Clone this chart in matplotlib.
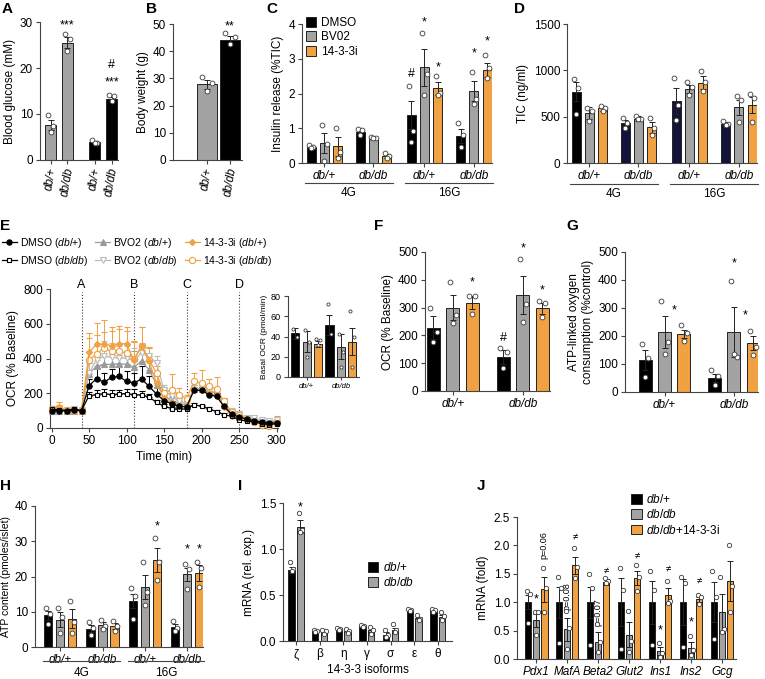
import numpy as np
import matplotlib
matplotlib.use("Agg")
import matplotlib.pyplot as plt
import matplotlib.transforms as mtransforms
from matplotlib.patches import Patch

plt.rcParams["font.family"] = ["Liberation Sans", "DejaVu Sans"]
plt.rcParams["mathtext.fontset"] = "custom"
plt.rcParams["mathtext.it"] = "Liberation Sans:italic"
plt.rcParams["mathtext.rm"] = "Liberation Sans"

# ---------------- data ----------------
# A - blood glucose
a_labels = ["db/+", "db/db", "db/+", "db/db"]
a_mean = [7.7, 25.5, 3.9, 13.3]
a_sem = [1.1, 1.2, 0.25, 0.4]
a_pts = [[9.8, 7.4, 6.1], [27.5, 26.4, 23.6], [4.4, 3.8, 3.6], [14.1, 13.9, 12.9]]
a_marks = [(1, 29.3, "***"), (3, 20.6, "#"), (3, 16.8, "***")]

# B - body weight
b_labels = ["db/+", "db/db"]
b_mean = [27.8, 44.3]
b_sem = [1.6, 1.3]
b_pts = [[30.6, 28.3, 25.5], [46.6, 45.2, 42.6]]
b_marks = [(1, 49.0, "**")]

# C - insulin release, groups: 4G db/+, 4G db/db, 16G db/+, 16G db/db
treatments = ["DMSO", "BV02", "14-3-3i"]
geno_labels = ["db/+", "db/db", "db/+", "db/db"]
glucose_labels = ["4G", "16G"]
c_mean = [[0.47, 0.58, 0.48], [0.90, 0.73, 0.20], [1.37, 2.75, 2.15], [0.78, 2.07, 2.68]]
c_sem = [[0.03, 0.28, 0.27], [0.06, 0.02, 0.05], [0.40, 0.53, 0.18], [0.20, 0.28, 0.20]]
c_pts = [
    [[0.52, 0.45, 0.44], [1.10, 0.55, 0.06], [1.02, 0.32, 0.14]],
    [[0.98, 0.95, 0.81], [0.76, 0.73, 0.71], [0.30, 0.19, 0.15]],
    [[2.21, 0.92, 0.60], [3.75, 2.55, 1.95], [2.50, 2.02, 1.95]],
    [[1.14, 0.80, 0.45], [2.63, 1.85, 1.70], [3.10, 2.72, 2.45]],
]
c_marks = [(2, 0, 2.55, "#"), (2, 1, 4.05, "*"), (2, 2, 2.75, "*"), (3, 1, 3.15, "*"), (3, 2, 3.5, "*")]

# D - total insulin content
d_mean = [[770, 540, 590], [430, 480, 385], [665, 800, 865], [420, 600, 625]]
d_sem = [[100, 60, 30], [30, 30, 60], [140, 40, 70], [20, 80, 90]]
d_pts = [
    [[905, 810, 530], [590, 560, 450], [610, 590, 560]],
    [[490, 430, 380], [510, 480, 470], [490, 380, 300]],
    [[920, 630, 460], [870, 820, 730], [990, 870, 780]],
    [[450, 420, 410], [720, 680, 440], [740, 700, 440]],
]

# E - OCR time course
e_time = [0, 10, 20, 30, 40, 50, 60, 70, 80, 90, 100, 110, 120, 130, 140, 150,
          160, 170, 180, 190, 200, 210, 220, 230, 240, 250, 260, 270, 280, 290, 300]
e_dmso_wt = [100, 100, 98, 102, 100, 243, 284, 263, 291, 297, 268, 259, 282, 240, 196, 157,
             140, 125, 121, 217, 217, 192, 182, 125, 80, 63, 52, 42, 33, 29, 29]
e_dmso_db = [109, 105, 100, 110, 100, 186, 192, 198, 192, 196, 198, 192, 190, 178, 148, 125,
             112, 108, 110, 134, 125, 110, 94, 77, 67, 48, 40, 35, 25, 20, 25]
e_bvo_wt = [100, 100, 100, 100, 100, 313, 355, 366, 366, 370, 366, 351, 384, 336, 249, 192,
            153, 140, 134, 224, 224, 211, 201, 134, 85, 65, 55, 45, 40, 35, 40]
e_bvo_db = [110, 110, 105, 110, 105, 316, 393, 412, 408, 403, 403, 389, 432, 412, 374, 220,
            182, 153, 144, 220, 230, 215, 205, 150, 95, 80, 60, 55, 45, 40, 45]
e_i_wt = [100, 120, 100, 100, 100, 435, 483, 483, 474, 485, 485, 389, 474, 384, 259, 171,
          144, 125, 125, 220, 220, 200, 190, 120, 70, 55, 45, 35, 30, 25, 30]
e_i_db = [110, 115, 105, 105, 100, 389, 428, 460, 441, 441, 431, 397, 470, 393, 316, 201,
          220, 192, 169, 268, 259, 240, 224, 153, 90, 75, 50, 35, 20, 10, 30]
e_dmso_wt_err = [10, 10, 8, 8, 8, 40, 60, 55, 50, 60, 60, 60, 75, 60, 40, 20,
                 15, 10, 10, 20, 20, 20, 20, 20, 12, 10, 8, 8, 6, 6, 6]
e_dmso_db_err = [8, 8, 6, 6, 6, 20, 25, 25, 25, 25, 25, 30, 25, 20, 15, 12,
                 10, 8, 8, 10, 10, 8, 8, 8, 6, 6, 6, 5, 5, 5, 5]
e_bvo_wt_err = [10, 10, 8, 8, 8, 60, 80, 90, 80, 80, 80, 90, 100, 80, 50, 30,
                25, 20, 20, 25, 25, 25, 25, 25, 15, 10, 10, 8, 8, 8, 8]
e_bvo_db_err = [15, 12, 10, 10, 10, 70, 80, 90, 80, 70, 70, 70, 60, 50, 40, 30,
                25, 20, 20, 25, 25, 25, 25, 25, 15, 10, 10, 8, 8, 8, 8]
e_i_wt_err = [10, 30, 10, 10, 10, 110, 120, 140, 110, 100, 95, 110, 105, 80, 60, 40,
              30, 25, 20, 40, 40, 30, 30, 20, 15, 10, 10, 8, 8, 8, 8]
e_i_db_err = [15, 20, 10, 10, 10, 130, 110, 90, 120, 130, 130, 100, 110, 70, 40, 30,
              90, 40, 20, 50, 75, 40, 70, 20, 15, 12, 10, 10, 8, 10, 40]
e_injections = [40, 110, 180, 250]
e_inj_labels = ["A", "B", "C", "D"]
e_basal_mean = [43, 35, 33, 51, 30, 35]
e_basal_sem = [5, 10, 3, 10, 12, 13]
e_basal_pts = [[47, 40], [46, 35, 20], [38, 37, 32], [72, 42], [42, 25, 10], [65, 40, 10]]

# F - OCR % baseline
f_mean = [[228, 300, 318], [123, 345, 298]]
f_sem = [[40, 45, 22], [25, 68, 20]]
f_pts = [[[300, 213, 177], [392, 274, 243], [343, 343, 277]],
         [[155, 141, 83], [475, 313, 249], [325, 316, 265]]]
f_marks = [(0, 2, 392, "*"), (1, 0, 192, "#"), (1, 1, 512, "*"), (1, 2, 362, "*")]

# G - ATP-linked oxygen consumption
g_mean = [[114, 214, 207], [50, 215, 176]]
g_sem = [[35, 57, 15], [15, 90, 25]]
g_pts = [[[170, 120, 54], [326, 179, 137], [239, 212, 183]],
         [[78, 57, 26], [397, 126, 135], [219, 161, 132]]]
g_marks = [(0, 1.52, 290, "*"), (1, 1.0, 458, "*"), (1, 1.6, 272, "*")]

# H - ATP content
h_mean = [[9.0, 7.8, 8.0], [5.2, 6.2, 6.0], [13.1, 17.0, 24.6], [5.8, 20.6, 21.0]]
h_sem = [[1.3, 2.0, 2.7], [0.9, 0.8, 0.8], [2.0, 3.5, 3.4], [0.8, 1.8, 2.2]]
h_pts = [
    [[11.2, 9.5, 6.5], [11.2, 8.5, 4.0], [13.0, 7.0, 4.0]],
    [[7.0, 5.5, 3.5], [7.8, 6.0, 5.2], [7.5, 6.0, 4.5]],
    [[16.8, 14.5, 8.0], [24.0, 15.5, 12.0], [31.0, 24.2, 19.0]],
    [[7.5, 5.5, 4.5], [23.5, 22.0, 16.5], [24.2, 22.5, 17.0]],
]
h_marks = [(2, 2, 34.3, "*"), (3, 1, 27.6, "*"), (3, 2, 27.6, "*")]

# I - 14-3-3 isoforms
i_iso = ["ζ", "β", "η", "γ", "σ", "ε", "θ"]
i_wt_mean = [0.77, 0.11, 0.13, 0.16, 0.07, 0.34, 0.34]
i_wt_sem = [0.03, 0.01, 0.01, 0.01, 0.025, 0.01, 0.01]
i_db_mean = [1.24, 0.10, 0.11, 0.12, 0.12, 0.25, 0.26]
i_db_sem = [0.07, 0.01, 0.01, 0.02, 0.025, 0.015, 0.025]
i_wt_pts = [[0.86, 0.78, 0.76], [0.12, 0.11, 0.10], [0.14, 0.13, 0.12], [0.17, 0.16, 0.15],
            [0.12, 0.07, 0.04], [0.35, 0.34, 0.33], [0.35, 0.34, 0.32]]
i_db_pts = [[1.39, 1.21, 1.18], [0.12, 0.11, 0.08], [0.13, 0.11, 0.09], [0.15, 0.12, 0.08],
            [0.18, 0.12, 0.10], [0.28, 0.24, 0.23], [0.31, 0.27, 0.23]]

# J - beta cell genes
j_genes = ["Pdx1", "MafA", "Beta2", "Glut2", "Ins1", "Ins2", "Gcg"]
j_wt_mean = [1.0, 1.0, 1.0, 1.0, 1.0, 1.0, 1.0]
j_wt_sem = [0.12, 0.27, 0.27, 0.42, 0.38, 0.40, 0.35]
j_db_mean = [0.68, 0.52, 0.30, 0.43, 0.14, 0.20, 0.82]
j_db_sem = [0.12, 0.20, 0.18, 0.22, 0.07, 0.10, 0.32]
j_i_mean = [1.23, 1.65, 1.35, 1.43, 1.12, 1.05, 1.37]
j_i_sem = [0.22, 0.15, 0.05, 0.12, 0.13, 0.05, 0.35]
j_wt_pts = [[1.20, 1.15, 0.63], [1.45, 1.25, 0.28], [1.50, 1.25, 0.25], [1.60, 1.22, 0.18],
            [1.55, 1.22, 0.25], [1.45, 1.33, 0.22], [1.55, 1.10, 0.35]]
j_db_pts = [[0.82, 0.82, 0.42], [0.85, 0.55, 0.18], [0.62, 0.30, 0.12], [0.85, 0.32, 0.13],
            [0.28, 0.10, 0.04], [0.40, 0.15, 0.07], [1.45, 0.52, 0.47]]
j_i_pts = [[1.60, 1.25, 0.83], [1.95, 1.62, 1.43], [1.42, 1.37, 1.33], [1.65, 1.45, 1.20],
           [1.37, 1.02, 0.98], [1.12, 1.10, 0.97], [2.00, 1.28, 0.83]]
j_stars = [(0, 1, 1.05), (4, 1, 0.50), (5, 1, 0.64)]
j_neq = [(1, 2, 2.15), (2, 2, 1.55), (3, 2, 1.82), (4, 2, 1.60), (5, 2, 1.38)]
j_pvals = [(0, 2, 2.0, "p=0.06"), (1, 1, 1.1, "p=0.08"), (2, 1, 0.82, "p=0.07")]

# ---------------- style ----------------
BLACK = "#000000"
GREY = "#a3a3a3"
ORANGE = "#f0a142"
NAVY = "#12123a"
EDGE = "#222222"
AX = "#444444"
W, H = 765, 679

fig = plt.figure(figsize=(W / 100, H / 100), dpi=100)


def px_ax(x0, y0, x1, y1):
    return fig.add_axes([x0 / W, 1 - y1 / H, (x1 - x0) / W, (y1 - y0) / H])


def clean(ax, fs=8):
    ax.spines[["top", "right"]].set_visible(False)
    for s in ["left", "bottom"]:
        ax.spines[s].set_linewidth(0.8)
        ax.spines[s].set_color(AX)
    ax.tick_params(labelsize=fs, length=3, width=0.8, color=AX, pad=2)


JIT = [-0.24, 0.24, 0.0]


def draw_bar(ax, x, m, e, pts, color, w, s=12):
    ax.bar(x, m, w, color=color, edgecolor=EDGE, linewidth=0.7, zorder=2)
    ax.errorbar(x, m, yerr=e, fmt="none", ecolor=EDGE, elinewidth=0.7,
                capsize=2.5, capthick=0.7, zorder=3)
    xs = [x + j * w for j in JIT[:len(pts)]]
    ax.scatter(xs, pts, s=s, facecolor="white", edgecolor="#3a3a3a",
               linewidths=0.6, zorder=4, clip_on=False)


def mark(ax, x, y, txt, fs=9):
    ax.text(x, y, txt, ha="center", va="center", fontsize=fs, zorder=5)


def letter(x, y, t):
    fig.text(x / W, 1 - y / H, t, fontsize=11, fontweight="bold", ha="left", va="top")


def glucose_bars(ax, centers, y_line, y_text):
    tr = mtransforms.blended_transform_factory(ax.transData, ax.transAxes)
    for k, lab in enumerate(glucose_labels):
        lo, hi = centers[2 * k] - 1.45, centers[2 * k + 1] + 1.45
        ax.plot([lo, hi], [y_line, y_line], color=AX, lw=0.8, transform=tr, clip_on=False)
        ax.text((lo + hi) / 2, y_text, lab, transform=tr, ha="center", va="center", fontsize=8.5)


def grouped(ax, centers, means, sems, pts, colors, w):
    for g, c in enumerate(centers):
        for b in range(3):
            draw_bar(ax, c + b - 1, means[g][b], sems[g][b], pts[g][b], colors[g][b], w)


# ---------------- A ----------------
axA = px_ax(40, 22, 118, 160)
a_x = [0, 1, 2.6, 3.6]
a_col = [GREY, GREY, BLACK, BLACK]
for i in range(4):
    draw_bar(axA, a_x[i], a_mean[i], a_sem[i], a_pts[i], a_col[i], 0.65)
for i, y, t in a_marks:
    mark(axA, a_x[i], y, t)
axA.set_xlim(-0.62, 3.98)
axA.set_ylim(0, 30)
axA.set_yticks([0, 10, 20, 30])
axA.set_xticks(a_x)
axA.set_xticklabels(a_labels, rotation=80, fontstyle="italic")
axA.set_ylabel("Blood glucose (mM)", fontsize=8.5, labelpad=3)
clean(axA, 8.5)

# ---------------- B ----------------
axB = px_ax(173, 24, 242, 160)
b_x = [0, 1]
b_col = [GREY, BLACK]
for i in range(2):
    draw_bar(axB, b_x[i], b_mean[i], b_sem[i], b_pts[i], b_col[i], 0.87)
for i, y, t in b_marks:
    mark(axB, b_x[i], y, t)
axB.set_xlim(-1.48, 1.52)
axB.set_ylim(0, 50)
axB.set_yticks([0, 10, 20, 30, 40, 50])
axB.set_xticks(b_x)
axB.set_xticklabels(b_labels, rotation=80, fontstyle="italic")
axB.set_ylabel("Body weight (g)", fontsize=8.5, labelpad=3)
clean(axB, 8.5)

# ---------------- C ----------------
cd_centers = [0, 3.67, 7.5, 11.2]
axC = px_ax(302, 24, 492, 163)
grouped(axC, cd_centers, c_mean, c_sem, c_pts, [[BLACK, GREY, ORANGE]] * 4, 0.68)
for g, b, y, t in c_marks:
    mark(axC, cd_centers[g] + b - 1, y, t)
axC.set_xlim(-1.68, 12.56)
axC.set_ylim(0, 4)
axC.set_yticks([0, 1, 2, 3, 4])
axC.set_xticks(cd_centers)
axC.set_xticklabels(geno_labels, fontstyle="italic")
axC.set_ylabel("Insulin release (%TIC)", fontsize=8.5, labelpad=3)
clean(axC, 8.5)
glucose_bars(axC, cd_centers, -0.145, -0.215)
axC.legend([Patch(facecolor=c, edgecolor=EDGE, lw=0.7) for c in [BLACK, GREY, ORANGE]], treatments,
           loc="upper left", bbox_to_anchor=(0.02, 1.05), frameon=False, fontsize=8.5,
           handlelength=0.9, handleheight=0.9, handletextpad=0.4, labelspacing=0.2,
           borderaxespad=0, borderpad=0)

# ---------------- D ----------------
axD = px_ax(567, 24, 757, 163)
d_colors = [[BLACK, GREY, ORANGE], [NAVY, GREY, ORANGE], [NAVY, GREY, ORANGE], [NAVY, GREY, ORANGE]]
grouped(axD, cd_centers, d_mean, d_sem, d_pts, d_colors, 0.68)
axD.set_xlim(-1.68, 12.56)
axD.set_ylim(0, 1500)
axD.set_yticks([0, 500, 1000, 1500])
axD.set_xticks(cd_centers)
axD.set_xticklabels(geno_labels, fontstyle="italic")
axD.set_ylabel("TIC (ng/ml)", fontsize=8.5, labelpad=3)
clean(axD, 8.5)
glucose_bars(axD, cd_centers, -0.15, -0.22)

# ---------------- E ----------------
axE = px_ax(50, 289, 278, 428)
e_series = [
    (e_bvo_wt, e_bvo_wt_err, "^", "#9a9a9a", "#9a9a9a", 4, r"BVO2 ($\it{db}$/+)"),
    (e_bvo_db, e_bvo_db_err, "v", "#bdbdbd", "white", 4, r"BVO2 ($\it{db/db}$)"),
    (e_i_db, e_i_db_err, "o", ORANGE, "white", 4.5, r"14-3-3i ($\it{db/db}$)"),
    (e_i_wt, e_i_wt_err, "D", ORANGE, ORANGE, 3.2, r"14-3-3i ($\it{db}$/+)"),
    (e_dmso_db, e_dmso_db_err, "s", BLACK, "white", 3.5, r"DMSO ($\it{db/db}$)"),
    (e_dmso_wt, e_dmso_wt_err, "o", BLACK, BLACK, 3.8, r"DMSO ($\it{db}$/+)"),
]
handles = {}
for y, err, mk, col, mfc, ms, lab in e_series:
    h = axE.errorbar(e_time, y, yerr=[np.zeros(len(err)), err], color=col, marker=mk, ms=ms,
                     mfc=mfc, mec=col, mew=0.8, lw=0.9, elinewidth=0.7, capsize=2,
                     capthick=0.7, clip_on=False, zorder=3)
    handles[lab] = h[0]
for x, t in zip(e_injections, e_inj_labels):
    axE.plot([x, x], [0, 785], ls=":", color="#333333", lw=0.8, zorder=1)
    axE.text(x, 825, t, ha="center", va="center", fontsize=9)
axE.set_xlim(-2, 302)
axE.set_ylim(0, 800)
axE.set_xticks([0, 50, 100, 150, 200, 250, 300])
axE.set_yticks([0, 200, 400, 600, 800])
axE.set_xlabel("Time (min)", fontsize=8.5, labelpad=3)
axE.set_ylabel("OCR (% Baseline)", fontsize=8.5, labelpad=3)
clean(axE, 8.5)
leg_order = [r"DMSO ($\it{db}$/+)", r"DMSO ($\it{db/db}$)", r"BVO2 ($\it{db}$/+)",
             r"BVO2 ($\it{db/db}$)", r"14-3-3i ($\it{db}$/+)", r"14-3-3i ($\it{db/db}$)"]
fig.legend([handles[k] for k in leg_order], leg_order, ncol=3, loc="upper left",
           bbox_to_anchor=(2 / W, 1 - 236 / H), frameon=False, fontsize=7.5,
           handlelength=1.4, handletextpad=0.3, columnspacing=0.7, labelspacing=0.35,
           borderaxespad=0, borderpad=0)

# inset basal OCR
axEi = px_ax(288, 296, 359, 377)
e_bx = [0, 1, 2, 3, 4, 5]
e_bcol = [BLACK, GREY, ORANGE, BLACK, GREY, ORANGE]
for i in range(6):
    draw_bar(axEi, e_bx[i], e_basal_mean[i], e_basal_sem[i], e_basal_pts[i], e_bcol[i], 0.72, s=5)
axEi.set_xlim(-0.65, 5.6)
axEi.set_ylim(0, 80)
axEi.set_yticks([0, 20, 40, 60, 80])
axEi.set_xticks([1, 4])
axEi.set_xticklabels(["db/+", "db/db"], fontstyle="italic")
axEi.set_ylabel("Basal OCR (pmol/min)", fontsize=6, labelpad=2)
clean(axEi, 6.5)
axEi.tick_params(axis="x", length=2, labelsize=5.5)

# ---------------- F ----------------
fg_centers = [1, 4.6]
axF = px_ax(425, 252, 550, 391)
for g, c in enumerate(fg_centers):
    for b, col in enumerate([BLACK, GREY, ORANGE]):
        draw_bar(axF, c + b - 1, f_mean[g][b], f_sem[g][b], f_pts[g][b], col, 0.68)
for g, b, y, t in f_marks:
    mark(axF, fg_centers[g] + b - 1, y, t)
axF.set_xlim(-0.43, 6.0)
axF.set_ylim(0, 500)
axF.set_yticks([0, 100, 200, 300, 400, 500])
axF.set_xticks(fg_centers)
axF.set_xticklabels(["db/+", "db/db"], fontstyle="italic")
axF.set_ylabel("OCR (% Baseline)", fontsize=8.5, labelpad=3)
clean(axF, 8.5)

# ---------------- G ----------------
axG = px_ax(625, 252, 758, 392)
for g, c in enumerate(fg_centers):
    for b, col in enumerate([BLACK, GREY, ORANGE]):
        draw_bar(axG, c + b - 1, g_mean[g][b], g_sem[g][b], g_pts[g][b], col, 0.68)
for g, dx, y, t in g_marks:
    mark(axG, fg_centers[g] - 1 + dx, y, t)
axG.set_xlim(-1.05, 5.85)
axG.set_ylim(0, 500)
axG.set_yticks([0, 100, 200, 300, 400, 500])
axG.set_xticks(fg_centers)
axG.set_xticklabels(["db/+", "db/db"], fontstyle="italic")
axG.set_ylabel("ATP-linked oxygen\nconsumption (%control)", fontsize=8.5, labelpad=3)
clean(axG, 8.5)

# ---------------- H ----------------
h_centers = [0, 3.53, 7.08, 10.55]
axH = px_ax(35, 506, 203, 647)
grouped(axH, h_centers, h_mean, h_sem, h_pts, [[BLACK, GREY, ORANGE]] * 4, 0.7)
for g, b, y, t in h_marks:
    mark(axH, h_centers[g] + b - 1, y, t)
axH.set_xlim(-2.1, 11.9)
axH.set_ylim(0, 40)
axH.set_yticks([0, 10, 20, 30, 40])
axH.set_xticks(h_centers)
axH.set_xticklabels(geno_labels, fontstyle="italic")
axH.set_ylabel("ATP content (pmoles/islet)", fontsize=7.5, labelpad=3)
clean(axH, 8.5)
glucose_bars(axH, h_centers, -0.1, -0.185)

# ---------------- I ----------------
axI = px_ax(283, 503, 452, 641)
i_x = np.arange(len(i_iso))
for k in range(len(i_iso)):
    draw_bar(axI, i_x[k] - 0.185, i_wt_mean[k], i_wt_sem[k], i_wt_pts[k], BLACK, 0.27, s=10)
    draw_bar(axI, i_x[k] + 0.185, i_db_mean[k], i_db_sem[k], i_db_pts[k], GREY, 0.27, s=10)
mark(axI, i_x[0] + 0.185, 1.45, "*")
axI.set_xlim(-0.55, 6.6)
axI.set_ylim(0, 1.5)
axI.set_yticks([0, 0.5, 1.0, 1.5])
axI.set_yticklabels(["0.0", "0.5", "1.0", "1.5"])
axI.set_xticks(i_x)
axI.set_xticklabels(i_iso)
axI.set_xlabel("14-3-3 isoforms", fontsize=8.5, labelpad=3)
axI.set_ylabel("mRNA (rel. exp.)", fontsize=8.5, labelpad=3)
clean(axI, 8.5)
axI.legend([Patch(facecolor=c, edgecolor=EDGE, lw=0.7) for c in [BLACK, GREY]],
           [r"$\it{db}$/+", r"$\it{db/db}$"], loc="upper left", bbox_to_anchor=(0.5, 0.58),
           frameon=False, fontsize=8.5, handlelength=0.9, handleheight=0.9,
           handletextpad=0.4, labelspacing=0.2, borderaxespad=0, borderpad=0)

# ---------------- J ----------------
axJ = px_ax(517, 517, 736, 659)
j_x = np.arange(len(j_genes))
j_off = [-0.26, 0, 0.26]
for k in range(len(j_genes)):
    draw_bar(axJ, j_x[k] + j_off[0], j_wt_mean[k], j_wt_sem[k], j_wt_pts[k], BLACK, 0.21, s=10)
    draw_bar(axJ, j_x[k] + j_off[1], j_db_mean[k], j_db_sem[k], j_db_pts[k], GREY, 0.21, s=10)
    draw_bar(axJ, j_x[k] + j_off[2], j_i_mean[k], j_i_sem[k], j_i_pts[k], ORANGE, 0.21, s=10)
for g, b, y in j_stars:
    mark(axJ, j_x[g] + j_off[b], y, "*")
for g, b, y in j_neq:
    mark(axJ, j_x[g] + j_off[b], y, "≠", fs=7)
for g, b, y, t in j_pvals:
    axJ.text(j_x[g] + j_off[b], y, t, rotation=90, ha="center", va="center", fontsize=6.5)
axJ.set_xlim(-0.62, 6.45)
axJ.set_ylim(0, 2.5)
axJ.set_yticks([0, 0.5, 1.0, 1.5, 2.0, 2.5])
axJ.set_yticklabels(["0.0", "0.5", "1.0", "1.5", "2.0", "2.5"])
axJ.set_xticks(j_x)
axJ.set_xticklabels(j_genes, fontstyle="italic", fontsize=8.5)
axJ.set_ylabel("mRNA (fold)", fontsize=8.5, labelpad=3)
clean(axJ, 8.5)
axJ.legend([Patch(facecolor=c, edgecolor=EDGE, lw=0.7) for c in [BLACK, GREY, ORANGE]],
           [r"$\it{db}$/+", r"$\it{db/db}$", r"$\it{db/db}$+14-3-3i"], loc="upper left",
           bbox_to_anchor=(0.52, 1.17), frameon=False, fontsize=8.5, handlelength=0.9,
           handleheight=0.9, handletextpad=0.4, labelspacing=0.2, borderaxespad=0, borderpad=0)

# panel letters
for x, y, t in [(2, 2, "A"), (146, 2, "B"), (266, 2, "C"), (514, 2, "D"), (0, 219, "E"),
                (374, 219, "F"), (566, 219, "G"), (0, 479, "H"), (238, 479, "I"), (477, 479, "J")]:
    letter(x, y, t)

fig.savefig("out.png", dpi=100)
